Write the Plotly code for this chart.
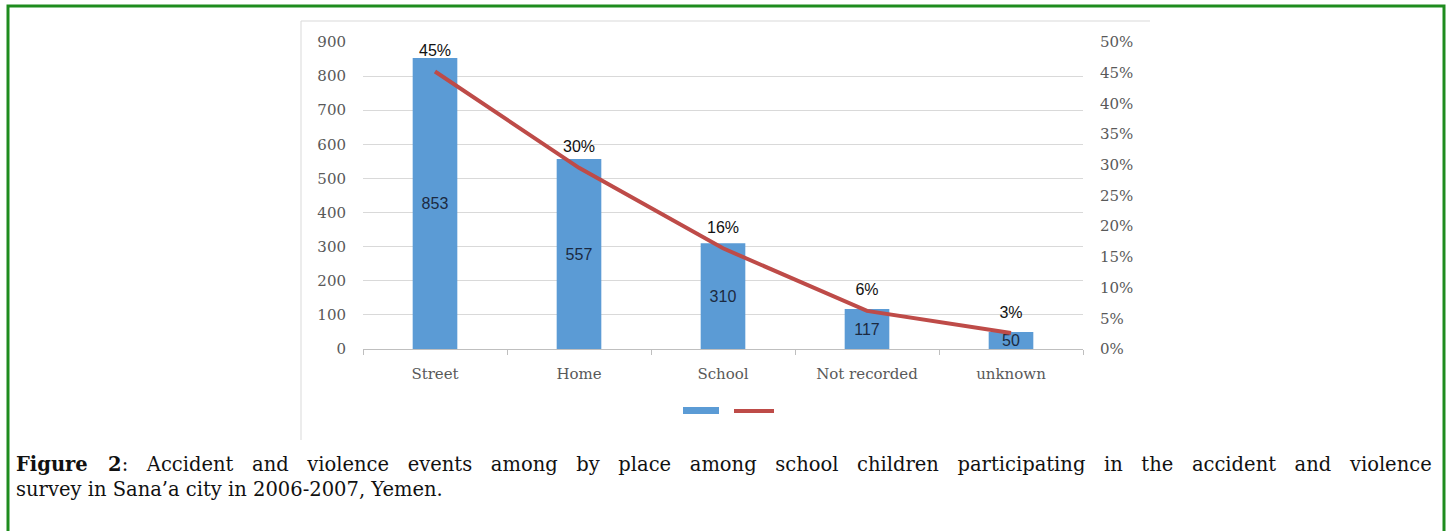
import plotly.graph_objects as go

categories = ["Street", "Home", "School", "Not recorded", "unknown"]
counts = [853, 557, 310, 117, 50]
percents = [45.2, 29.5, 16.4, 6.2, 2.6]
percent_labels = ["45%", "30%", "16%", "6%", "3%"]
left_ticks = [0, 100, 200, 300, 400, 500, 600, 700, 800, 900]
right_ticks = [0, 5, 10, 15, 20, 25, 30, 35, 40, 45, 50]

W, H = 1449, 531
L, R, T, B = 363, 1083, 42, 349

def px(x):
    return (x - L) / (R - L)

def py(y):
    return (B - y) / (B - T)

tick_font = dict(family="DejaVu Serif", size=15, color="#595959")

fig = go.Figure()
fig.add_trace(go.Bar(
    x=categories, y=counts, marker_color="#5B9BD5", marker_line_width=0,
    text=[str(c) for c in counts], textposition="inside", insidetextanchor="middle",
    textfont=dict(family="Liberation Sans", size=16, color="#1B2A41"),
    yaxis="y", width=0.31, showlegend=False, cliponaxis=False,
))
fig.add_trace(go.Scatter(
    x=categories, y=percents, mode="lines+text", yaxis="y2",
    line=dict(color="#BE4B48", width=4),
    text=["<span style='font-size:16px'>" + t + "</span><br> " for t in percent_labels],
    textposition="top center",
    textfont=dict(family="Liberation Sans", size=10, color="#111111"),
    showlegend=False, cliponaxis=False,
))

shapes = [
    dict(type="rect", xref="paper", yref="paper",
         x0=px(8), x1=px(1444), y0=py(545), y1=py(6),
         line=dict(color="#1E8C1E", width=3), fillcolor="rgba(0,0,0,0)", layer="below"),
    dict(type="line", xref="paper", yref="paper", x0=px(301), x1=px(1150), y0=py(21), y1=py(21),
         line=dict(color="#D9D9D9", width=1)),
    dict(type="line", xref="paper", yref="paper", x0=px(301), x1=px(301), y0=py(21), y1=py(440),
         line=dict(color="#D9D9D9", width=1)),
    dict(type="rect", xref="paper", yref="paper", x0=px(683), x1=px(719), y0=py(414), y1=py(407),
         fillcolor="#5B9BD5", line=dict(width=0)),
    dict(type="line", xref="paper", yref="paper", x0=px(734), x1=px(774), y0=py(411), y1=py(411),
         line=dict(color="#BE4B48", width=4)),
]

nb = "&nbsp;"
line1_words = ["<b>Figure", "2</b>:", "Accident", "and", "violence", "events", "among", "by", "place",
               "among", "school", "children", "participating", "in", "the", "accident", "and", "violence"]
line1 = (nb * 3).join(line1_words)
line2 = "survey in Sana’a city in 2006-2007, Yemen."
cap_font = dict(family="DejaVu Serif", size=19.5, color="#111111")

annotations = [
    dict(xref="paper", yref="paper", x=px(14), y=py(464), xanchor="left", yanchor="middle",
         text=line1, showarrow=False, font=cap_font),
    dict(xref="paper", yref="paper", x=px(14), y=py(489), xanchor="left", yanchor="middle",
         text=line2, showarrow=False, font=cap_font),
]

fig.update_layout(
    width=W, height=H,
    margin=dict(l=L, r=W - R, t=T, b=H - B, pad=0),
    paper_bgcolor="white", plot_bgcolor="white",
    bargap=0.69,
    xaxis=dict(tickfont=tick_font, showline=True, linecolor="#BFBFBF", linewidth=1,
               ticks="outside", tickson="boundaries", ticklen=5, tickcolor="#BFBFBF",
               showgrid=False, ticklabelstandoff=11),
    yaxis=dict(range=[0, 900], tickvals=left_ticks, tickfont=tick_font,
               showgrid=True, gridcolor="#D9D9D9", gridwidth=1, zeroline=False,
               ticks="", ticklabelstandoff=16),
    yaxis2=dict(range=[0, 50], tickvals=right_ticks, ticktext=[f"{v}%" for v in right_ticks],
                overlaying="y", side="right", tickfont=tick_font, showgrid=False,
                zeroline=False, ticks="", ticklabelstandoff=16),
    uniformtext=dict(minsize=16, mode="show"),
    shapes=shapes, annotations=annotations,
    showlegend=False,
)

fig.write_html("out.html")
